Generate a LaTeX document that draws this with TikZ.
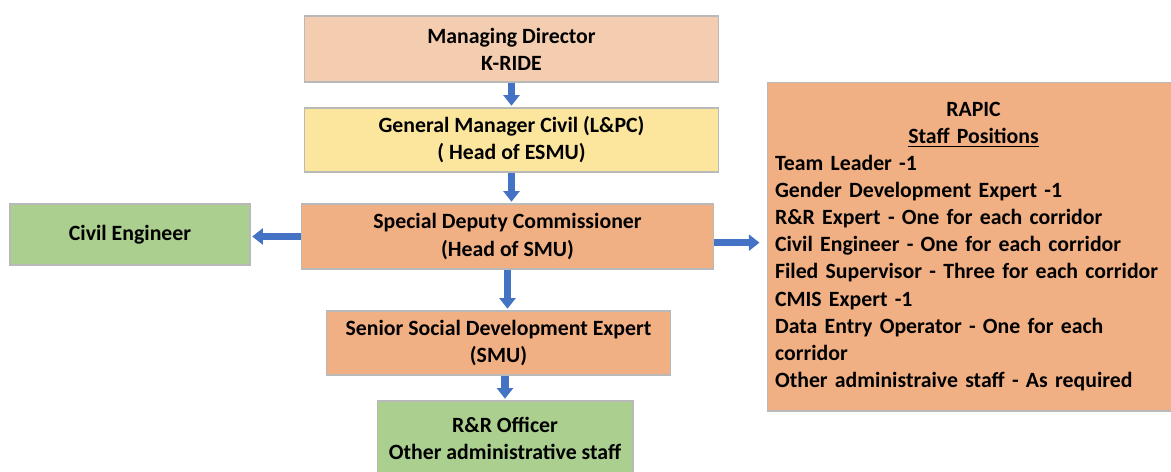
\documentclass[tikz,border=0pt]{standalone}
\usepackage{fontspec}
\setmainfont{Carlito}
\usetikzlibrary{arrows.meta}

\definecolor{mdfill}{HTML}{F4CCAF}
\definecolor{gmfill}{HTML}{FCE69D}
\definecolor{peach}{HTML}{F1B084}
\definecolor{leaf}{HTML}{AACF8E}
\definecolor{arrowblue}{HTML}{4472C4}

\tikzset{
  box/.style={draw=gray!55, line width=0.6pt, align=center, inner sep=0pt,
    font=\bfseries\fontsize{12.4}{15.4}\selectfont},
  flow/.style={draw=arrowblue, line width=4pt, shorten >=1pt,
    -{Triangle[width=9pt,length=6pt]}},
}

\begin{document}
\begin{tikzpicture}[x=0.02cm,y=-0.02cm]
    \useasboundingbox (0,0) rectangle (1171,471);
    % chain of command
    \node[box, fill=mdfill, minimum width=8.3cm, minimum height=1.32cm] (md) at (511.5,49) {Managing Director\\K-RIDE};
    \node[box, fill=gmfill, minimum width=8.3cm, minimum height=1.28cm] (gm) at (511.5,140) {General Manager Civil (L\&PC)\\( Head of ESMU)};
    \node[box, fill=peach, minimum width=8.26cm, minimum height=1.3cm] (sdc) at (507.5,236.5) {Special Deputy Commissioner\\(Head of SMU)};
    \node[box, fill=leaf, minimum width=4.8cm, minimum height=1.22cm] (ce) at (130,234.5) {Civil Engineer};
    \node[box, fill=peach, minimum width=6.9cm, minimum height=1.28cm] (ssde) at (498.5,343) {Senior Social Development Expert\\(SMU)};
    \node[box, fill=leaf, minimum width=5.12cm, minimum height=1.48cm] (rro) at (505,438) {R\&R Officer\\Other administrative staff};
    % staff list
    \node[box, fill=peach, align=left, text width=7.94cm, minimum width=8.26cm, minimum height=6.58cm] (rapic) at (973.5,246.5)
      {{\centering RAPIC\\ \underline{Staff Positions}\par}
       Team Leader -1\\
       Gender Development Expert -1\\
       R\&R Expert - One for each corridor\\
       Civil Engineer - One for each corridor\\
       Filed Supervisor - Three for each corridor\\
       CMIS Expert -1\\
       Data Entry Operator - One for each\\
       corridor\\
       Other administraive staff - As required};

    \draw[flow] (md.south) -- (gm.north);
    \draw[flow] (gm.south) -- (gm.south |- sdc.north);
    \draw[flow] (sdc.south) -- (sdc.south |- ssde.north);
    \draw[flow] (rro.north |- ssde.south) -- (rro.north);
    \draw[flow] (sdc.west) -- (sdc.west -| ce.east);
    \draw[flow, shorten >=4pt] ([yshift=-3.5pt]sdc.east) -- ([yshift=-3.5pt]sdc.east -| rapic.west);
  \end{tikzpicture}
\end{document}
